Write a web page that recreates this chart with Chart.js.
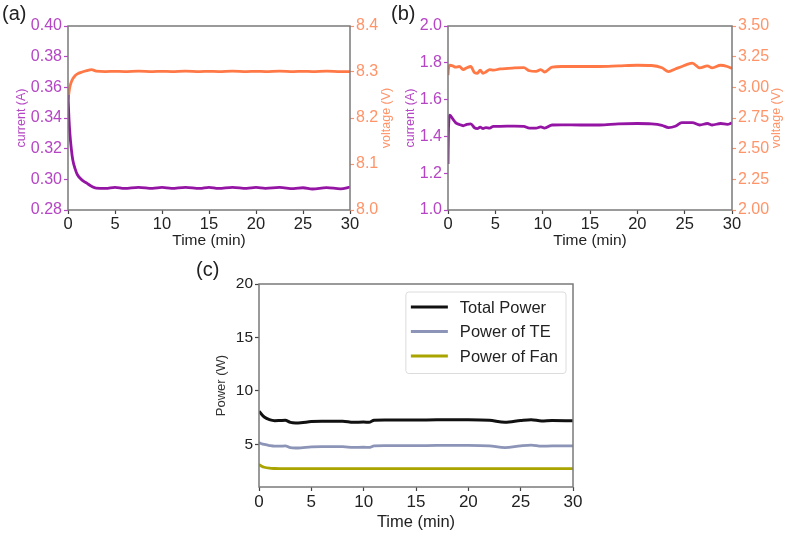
<!DOCTYPE html>
<html>
<head>
<meta charset="utf-8">
<script src="https://cdn.jsdelivr.net/npm/chart.js@4.4.1/dist/chart.umd.min.js"></script>
<style>
  body { margin: 0; background: #fff; }
  #wrap { position: relative; width: 790px; height: 535px; overflow: hidden; font-family: 'Liberation Sans', Arial, sans-serif; }
  canvas { position: absolute; }
  .tag { position: absolute; font-size: 20px; line-height: 20px; color: #222; }
</style>
</head>
<body>
<div id="wrap">
  <canvas id="chartA" width="395" height="250" style="left:0;top:0"></canvas>
  <canvas id="chartB" width="395" height="250" style="left:395px;top:0"></canvas>
  <canvas id="chartC" width="420" height="285" style="left:190px;top:250px"></canvas>
  <div class="tag" style="left:2px;top:3px">(a)</div>
  <div class="tag" style="left:391px;top:3px">(b)</div>
  <div class="tag" style="left:196px;top:259px">(c)</div>
</div>
<script>
// time axis (min)
const timeTicks = [0, 5, 10, 15, 20, 25, 30]

// (a)
const timeA = [0, 0.1, 0.2, 0.35, 0.5, 0.75, 1, 1.5, 2, 2.5, 3, 4, 5, 6, 7.5, 9, 10, 11, 12.5, 14, 15, 16, 17.5, 19, 20, 21, 22.5, 24, 25, 26, 27.5, 29, 30]
const currentA = [0.355, 0.340, 0.330, 0.320, 0.313, 0.307, 0.303, 0.2995, 0.2975, 0.2955, 0.2943, 0.2941, 0.2948, 0.2941, 0.2948, 0.2941, 0.2947, 0.2941, 0.2948, 0.2941, 0.2948, 0.2941, 0.2948, 0.2941, 0.2947, 0.2941, 0.2947, 0.2939, 0.2945, 0.2937, 0.2946, 0.2938, 0.2949]
const voltageA = [8.240, 8.255, 8.268, 8.278, 8.285, 8.292, 8.296, 8.300, 8.303, 8.305, 8.302, 8.301, 8.3015, 8.301, 8.302, 8.301, 8.3015, 8.301, 8.302, 8.301, 8.3015, 8.301, 8.302, 8.301, 8.3015, 8.301, 8.302, 8.301, 8.3015, 8.301, 8.302, 8.301, 8.301]
const currentTicksA = [0.28, 0.30, 0.32, 0.34, 0.36, 0.38, 0.40]
const voltageTicksA = [8.0, 8.1, 8.2, 8.3, 8.4]

// (b)
const timeB = [0, 0.05, 0.2, 0.5, 0.8, 1.2, 1.6, 2.0, 2.4, 2.8, 3.1, 3.4, 3.7, 4.0, 4.4, 4.8, 5.5, 7, 8, 8.6, 9.3, 9.8, 10.2, 11, 12, 14, 16, 18, 20, 21.5, 22.6, 23.3, 24, 24.7, 25.2, 25.8, 26.6, 27.4, 27.9, 28.8, 29.5, 30]
const currentB = [1.25, 1.44, 1.515, 1.495, 1.475, 1.465, 1.458, 1.465, 1.468, 1.447, 1.442, 1.450, 1.443, 1.448, 1.445, 1.455, 1.455, 1.456, 1.455, 1.445, 1.445, 1.452, 1.445, 1.462, 1.463, 1.462, 1.462, 1.468, 1.470, 1.468, 1.460, 1.448, 1.455, 1.475, 1.475, 1.475, 1.462, 1.470, 1.462, 1.470, 1.465, 1.474]
const voltageB = [3.10, 3.15, 3.18, 3.175, 3.165, 3.17, 3.145, 3.16, 3.17, 3.12, 3.115, 3.14, 3.115, 3.125, 3.145, 3.14, 3.15, 3.158, 3.16, 3.135, 3.13, 3.145, 3.125, 3.165, 3.17, 3.17, 3.17, 3.175, 3.18, 3.178, 3.16, 3.128, 3.15, 3.17, 3.185, 3.198, 3.158, 3.175, 3.158, 3.18, 3.17, 3.155]
const currentTicksB = [1.0, 1.2, 1.4, 1.6, 1.8, 2.0]
const voltageTicksB = [2.00, 2.25, 2.50, 2.75, 3.00, 3.25, 3.50]

// (c)
const timeC = [0, 0.25, 0.5, 1, 1.5, 2, 2.5, 3, 3.5, 4, 5, 6, 8, 9, 10, 10.5, 11, 12, 14, 16, 18, 20, 22, 23.5, 25, 26, 27, 28, 30]
const totalPower = [8.1, 7.8, 7.55, 7.3, 7.2, 7.22, 7.25, 7.05, 7.0, 7.02, 7.12, 7.15, 7.15, 7.05, 7.08, 7.05, 7.25, 7.28, 7.28, 7.28, 7.3, 7.3, 7.25, 7.05, 7.22, 7.3, 7.18, 7.22, 7.2]
const tePower = [5.15, 5.05, 4.98, 4.88, 4.82, 4.82, 4.85, 4.68, 4.65, 4.67, 4.75, 4.78, 4.78, 4.70, 4.72, 4.70, 4.85, 4.88, 4.88, 4.88, 4.90, 4.90, 4.85, 4.68, 4.85, 4.92, 4.82, 4.85, 4.85]
const fanPower = [3.1, 2.95, 2.85, 2.76, 2.73, 2.72, 2.72, 2.72, 2.72, 2.72, 2.72, 2.72, 2.72, 2.72, 2.72, 2.72, 2.72, 2.72, 2.72, 2.72, 2.72, 2.72, 2.72, 2.72, 2.72, 2.72, 2.72, 2.72, 2.72]
const powerTicks = [5, 10, 15, 20]
const powerLabels = ['Total Power', 'Power of TE', 'Power of Fan']

const FONT = "'Liberation Sans', Arial, sans-serif"
const PURPLE = '#9414a4', PURPLE_TXT = '#b545c4'
const ORANGE = '#ff7846', ORANGE_TXT = '#ff9469'
const FRAME = '#7a7a7a'

const toPoints = (xs, ys) => xs.map((x, i) => ({x: x, y: ys[i]}))
const fixTicks = list => scale => { scale.ticks = list.map(v => ({value: v})) }

// box around the plot area, like matplotlib spines
const frame = {
    id: 'frame',
    afterDatasetsDraw(chart) {
        const a = chart.chartArea, ctx = chart.ctx
        ctx.save()
        ctx.strokeStyle = FRAME
        ctx.lineWidth = 1.5
        ctx.strokeRect(a.left, a.top, a.right - a.left, a.bottom - a.top)
        ctx.restore()
    }
}

// right axis title reading bottom-to-top
const rightTitle = {
    id: 'rightTitle',
    afterDraw(chart, args, opts) {
        if (!opts.text) return
        const a = chart.chartArea, ctx = chart.ctx
        ctx.save()
        ctx.translate(a.right + opts.offset, (a.top + a.bottom) / 2)
        ctx.rotate(-Math.PI / 2)
        ctx.font = opts.size + 'px ' + FONT
        ctx.fillStyle = opts.color
        ctx.textAlign = 'center'
        ctx.textBaseline = 'middle'
        ctx.fillText(opts.text, 0, 0)
        ctx.restore()
    }
}

// legend box inside the plot, top right
const boxLegend = {
    id: 'boxLegend',
    afterDatasetsDraw(chart, args, opts) {
        if (!opts.show) return
        const a = chart.chartArea, ctx = chart.ctx
        const sets = chart.data.datasets
        ctx.save()
        ctx.font = '16.5px ' + FONT
        const textW = Math.max(...sets.map(d => ctx.measureText(d.label).width))
        const rowH = 24.5, lineLen = 37, gap = 12, pad = 5
        const w = pad + lineLen + gap + textW + 8
        const h = rowH * sets.length + 8
        const x = a.right - 7 - w, y = a.top + 8
        ctx.fillStyle = 'rgba(255,255,255,0.85)'
        ctx.strokeStyle = '#dcdcdc'
        ctx.lineWidth = 1
        ctx.beginPath()
        ctx.roundRect(x, y, w, h, 3)
        ctx.fill()
        ctx.stroke()
        sets.forEach((d, i) => {
            const cy = y + 15 + i * rowH
            ctx.strokeStyle = d.borderColor
            ctx.lineWidth = d.borderWidth
            ctx.beginPath()
            ctx.moveTo(x + pad, cy)
            ctx.lineTo(x + pad + lineLen, cy)
            ctx.stroke()
            ctx.fillStyle = '#222'
            ctx.textBaseline = 'middle'
            ctx.fillText(d.label, x + pad + lineLen + gap, cy + 1)
        })
        ctx.restore()
    }
}

const timeAxis = (height, tickSize, titleSize, titlePad) => ({
    type: 'linear',
    min: 0,
    max: 30,
    afterBuildTicks: fixTicks(timeTicks),
    afterFit: s => { s.height = height },
    border: {display: false},
    grid: {drawOnChartArea: false, tickLength: 4, tickColor: '#444', tickWidth: 1.2},
    ticks: {color: '#222', font: {family: FONT, size: tickSize}, padding: 1, maxRotation: 0},
    title: {display: true, text: 'Time (min)', color: '#222', font: {family: FONT, size: titleSize}, padding: {top: 0, bottom: titlePad}}
})

const makeDual = (id, o) => new Chart(document.getElementById(id), {
    type: 'line',
    data: {
        datasets: [
            {label: 'current', data: toPoints(o.time, o.current), yAxisID: 'y', borderColor: PURPLE, borderWidth: 2.8},
            {label: 'voltage', data: toPoints(o.time, o.voltage), yAxisID: 'y1', borderColor: ORANGE, borderWidth: 2.8}
        ]
    },
    options: {
        responsive: false,
        animation: false,
        layout: {padding: {top: 26, right: 0, left: 0, bottom: 0}},
        elements: {point: {radius: 0}, line: {tension: 0.4, cubicInterpolationMode: 'monotone'}},
        plugins: {
            legend: {display: false},
            tooltip: {enabled: false},
            rightTitle: {text: 'voltage (V)', color: ORANGE_TXT, size: 12.5, offset: o.rightTitleOffset}
        },
        scales: {
            x: timeAxis(40, 16.5, 15.5, 0),
            y: {
                position: 'left',
                min: o.currentTicks[0],
                max: o.currentTicks[o.currentTicks.length - 1],
                afterBuildTicks: fixTicks(o.currentTicks),
                afterFit: s => { s.width = o.leftWidth },
                border: {display: false},
                grid: {drawOnChartArea: false, tickLength: 4, tickColor: PURPLE_TXT, tickWidth: 1.2},
                ticks: {color: PURPLE_TXT, font: {family: FONT, size: 16}, padding: 2, callback: v => v.toFixed(o.currentDigits)},
                title: {display: true, text: 'current (A)', color: PURPLE_TXT, font: {family: FONT, size: 12.5}, padding: {top: o.leftTitlePad, bottom: 0}}
            },
            y1: {
                position: 'right',
                min: o.voltageTicks[0],
                max: o.voltageTicks[o.voltageTicks.length - 1],
                afterBuildTicks: fixTicks(o.voltageTicks),
                afterFit: s => { s.width = o.rightWidth },
                border: {display: false},
                grid: {drawOnChartArea: false, tickLength: 4, tickColor: ORANGE_TXT, tickWidth: 1.2},
                ticks: {color: ORANGE_TXT, font: {family: FONT, size: 16}, padding: 2, callback: v => v.toFixed(o.voltageDigits)}
            }
        }
    },
    plugins: [frame, rightTitle]
})

makeDual('chartA', {
    time: timeA, current: currentA, voltage: voltageA,
    currentTicks: currentTicksA, voltageTicks: voltageTicksA,
    currentDigits: 2, voltageDigits: 1,
    leftWidth: 68, rightWidth: 45, leftTitlePad: 14, rightTitleOffset: 37
})

makeDual('chartB', {
    time: timeB, current: currentB, voltage: voltageB,
    currentTicks: currentTicksB, voltageTicks: voltageTicksB,
    currentDigits: 1, voltageDigits: 2,
    leftWidth: 53, rightWidth: 58, leftTitlePad: 8, rightTitleOffset: 45
})

new Chart(document.getElementById('chartC'), {
    type: 'line',
    data: {
        datasets: [
            {label: powerLabels[0], data: toPoints(timeC, totalPower), borderColor: '#111111', borderWidth: 3},
            {label: powerLabels[1], data: toPoints(timeC, tePower), borderColor: '#8c95b8', borderWidth: 2.8},
            {label: powerLabels[2], data: toPoints(timeC, fanPower), borderColor: '#a9a400', borderWidth: 2.8}
        ]
    },
    options: {
        responsive: false,
        animation: false,
        layout: {padding: {top: 34, right: 37, left: 0, bottom: 0}},
        elements: {point: {radius: 0}, line: {tension: 0.4, cubicInterpolationMode: 'monotone'}},
        plugins: {
            legend: {display: false},
            tooltip: {enabled: false},
            boxLegend: {show: true}
        },
        scales: {
            x: timeAxis(48, 17, 16.5, 3),
            y: {
                min: 1,
                max: 20,
                afterBuildTicks: fixTicks(powerTicks),
                afterFit: s => { s.width = 69 },
                border: {display: false},
                grid: {drawOnChartArea: false, tickLength: 4, tickColor: '#444', tickWidth: 1.2},
                ticks: {color: '#222', font: {family: FONT, size: 15.5}, padding: 2},
                title: {display: true, text: 'Power (W)', color: '#333', font: {family: FONT, size: 13}, padding: {top: 24, bottom: 0}}
            }
        }
    },
    plugins: [frame, boxLegend]
})
</script>
</body>
</html>
